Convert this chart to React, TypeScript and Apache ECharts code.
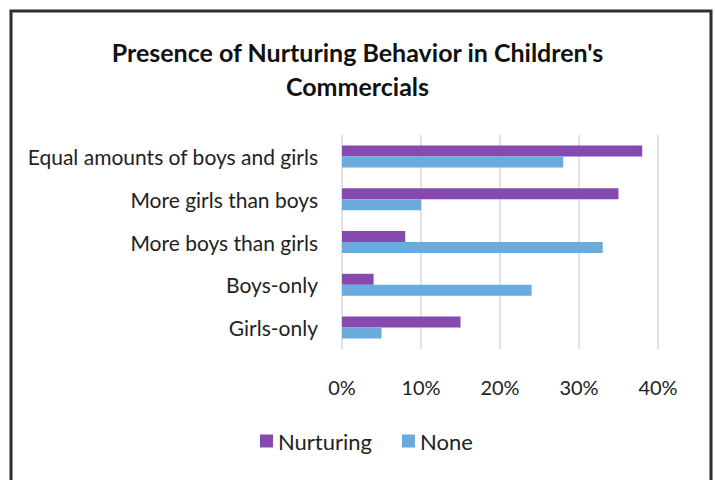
import React, { useEffect, useRef } from "react";
import * as echarts from "echarts";

const categories = [
  "Equal amounts of boys and girls",
  "More girls than boys",
  "More boys than girls",
  "Boys-only",
  "Girls-only",
];
const nurturing = [38, 35, 8, 4, 15];
const none = [28, 10, 33, 24, 5];
const xTicks = [0, 10, 20, 30, 40];

const FONT = "Lato";

export default function App() {
  const ref = useRef<HTMLDivElement>(null);
  useEffect(() => {
    if (!ref.current) return;
    const chart = echarts.init(ref.current, undefined, { renderer: "svg" });
    chart.setOption({
      animation: false,
      backgroundColor: "#ffffff",
      textStyle: { fontFamily: FONT },
      title: {
        text: "Presence of Nurturing Behavior in Children's\nCommercials",
        left: "center",
        top: 30,
        textStyle: {
          fontFamily: FONT,
          fontWeight: "bold",
          fontSize: 25,
          lineHeight: 34,
          color: "#111111",
        },
      },
      graphic: [
        {
          type: "rect",
          shape: { x: 11, y: 11, width: 700, height: 520 },
          style: { fill: "none", stroke: "#2e2e2e", lineWidth: 3 },
          silent: true,
        },
      ],
      legend: {
        data: ["Nurturing", "None"],
        top: 425,
        left: 255,
        itemWidth: 13,
        itemHeight: 13,
        itemGap: 30,
        icon: "rect",
        textStyle: { fontFamily: FONT, fontSize: 22, color: "#222222" },
      },
      grid: { left: 342, top: 135, width: 316, height: 214 },
      xAxis: {
        type: "value",
        min: xTicks[0],
        max: xTicks[xTicks.length - 1],
        interval: 10,
        axisLine: { show: false },
        axisTick: { show: false },
        axisLabel: {
          formatter: "{value}%",
          fontFamily: FONT,
          fontSize: 20,
          color: "#222222",
          margin: 28,
        },
        splitLine: { lineStyle: { color: "#d9d9d9", width: 1.5 } },
      },
      yAxis: {
        type: "category",
        data: categories,
        inverse: true,
        axisLine: { show: false },
        axisTick: { show: false },
        axisLabel: {
          fontFamily: FONT,
          fontSize: 21,
          color: "#222222",
          margin: 24,
        },
      },
      series: [
        {
          name: "Nurturing",
          type: "bar",
          data: nurturing,
          barWidth: 11,
          barGap: "0%",
          itemStyle: { color: "#8549AF" },
        },
        {
          name: "None",
          type: "bar",
          data: none,
          barWidth: 11,
          barGap: "0%",
          itemStyle: { color: "#6AAADC" },
        },
      ],
    });
    return () => chart.dispose();
  }, []);
  return (
    <div
      ref={ref}
      style={{ position: "fixed", left: 0, top: 0, width: 715, height: 480 }}
    />
  );
}
